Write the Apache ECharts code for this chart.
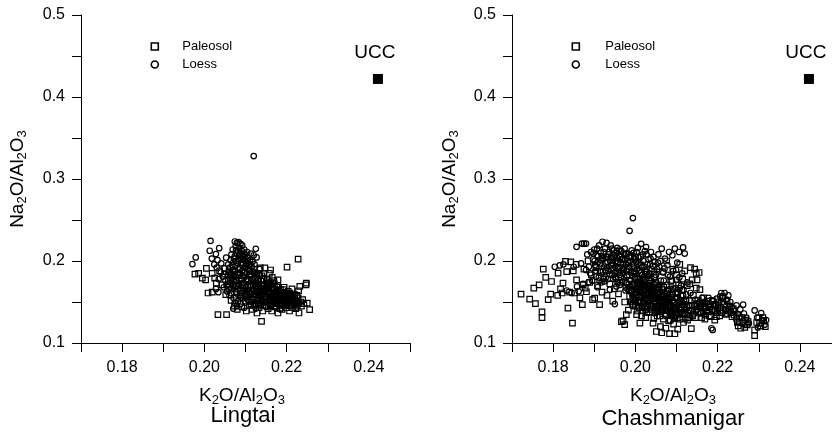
<!DOCTYPE html>
<html><head><meta charset="utf-8">
<script src="https://cdn.jsdelivr.net/npm/echarts@6/dist/echarts.min.js"></script>
<style>html,body{margin:0;padding:0;background:#fff}#c{width:832px;height:440px}</style>
</head><body><div id="c"></div>
<script>
// ---------- data ----------
const panelTitles = ['Lingtai', 'Chashmanigar'];
const seriesNames = ['Paleosol', 'Loess'];
const xTickLabels = ['0.18', '0.20', '0.22', '0.24'];
const yTickLabels = ['0.1', '0.2', '0.3', '0.4', '0.5'];
const uccPoint = [0.2422, 0.422];

const lingtaiPaleosol = [
[.1977,.184],[.1986,.185],[.1995,.179],[.2003,.177],[.2005,.191],[.2009,.161],[.2019,.162],[.2019,.185],[.2025,.179],[.2029,.173],
[.2033,.1345],[.2054,.1345],[.2037,.188],[.2043,.171],[.2049,.184],[.2052,.159],[.2058,.168],[.2060,.187],[.2065,.152],[.2068,.178],
[.2073,.145],[.2075,.169],[.2080,.141],[.2081,.183],[.2087,.163],[.2089,.175],[.2091,.144],[.2094,.167],[.2096,.182],[.2100,.151],
[.2102,.139],[.2104,.163],[.2107,.177],[.2109,.146],[.2111,.187],[.2113,.160],[.2116,.141],[.2118,.172],[.2120,.153],[.2123,.180],
[.2125,.146],[.2126,.165],[.2128,.1366],[.2130,.158],[.2132,.175],[.2133,.143],[.2139,.1263],[.2137,.163],[.2139,.151],[.2140,.182],
[.2142,.139],[.2143,.170],[.2145,.156],[.2147,.146],[.2147,.1917],[.2150,.166],[.2152,.150],[.2153,.177],[.2155,.142],[.2156,.160],
[.2158,.185],[.2159,.171],[.2161,.147],[.2161,.189],[.2163,.157],[.2164,.139],[.2166,.167],[.2168,.152],[.2169,.176],[.2171,.144],
[.2173,.162],[.2174,.156],[.2176,.149],[.2178,.170],[.2179,.1366],[.2179,.177],[.2181,.158],[.2184,.146],[.2185,.165],[.2187,.152],
[.2189,.141],[.2190,.160],[.2192,.155],[.2194,.168],[.2195,.147],[.2197,.157],[.2199,.143],[.2201,.1926],[.2202,.152],[.2204,.163],
[.2206,.146],[.2207,.139],[.2209,.156],[.2211,.149],[.2213,.166],[.2214,.143],[.2216,.154],[.2218,.147],[.2220,.159],[.2222,.142],
[.2224,.151],[.2226,.145],[.2228,.2023],[.2228,.155],[.2229,.1637],[.2230,.1366],[.2232,.169],[.2234,.150],[.2236,.145],[.2239,.153],
[.2242,.148],[.2247,.171],[.2248,.173],[.2250,.1487],[.2256,.1406],
[.2106,.168],[.2112,.161],[.2119,.156],[.2124,.170],[.2131,.149],[.2135,.166],[.2141,.160],[.2146,.171],[.2151,.155],[.2157,.164],
[.2162,.168],[.2167,.160],[.2172,.151],[.2177,.164],[.2183,.155],[.2188,.149],[.2193,.158],[.2198,.150],[.2208,.161],[.2215,.157],
[.2100,.158],[.2093,.171],[.2085,.179],[.2078,.170],[.2070,.183],[.2099,.186],[.2122,.190],[.2133,.185],[.2144,.178],[.2154,.173],
[.2165,.180],[.2136,.1915],[.2170,.172],
[.2061,.172],[.2067,.161],[.2072,.176],[.2077,.155],[.2083,.166],[.2088,.157],[.2092,.161],[.2097,.170],[.2103,.156],[.2108,.164],
[.2110,.150],[.2114,.175],[.2117,.163],[.2121,.147],[.2124,.159],[.2127,.152],[.2129,.168],[.2132,.162],[.2134,.155],[.2136,.147],
[.2138,.170],[.2140,.164],[.2143,.150],[.2145,.166],[.2148,.160],[.2150,.151],[.2153,.168],[.2155,.162],[.2158,.154],[.2160,.145],
[.2162,.161],[.2164,.152],[.2167,.148],[.2169,.165],[.2171,.157],[.2174,.145],[.2176,.168],[.2178,.160],[.2181,.153],[.2183,.142],
[.2186,.162],[.2188,.156],[.2191,.146],[.2193,.165],[.2196,.152],[.2199,.160],[.2201,.147],[.2203,.155],[.2206,.151],[.2210,.158],
[.2212,.145],[.2217,.150],[.2219,.155],[.2223,.147],[.2225,.158]
];

const lingtaiLoess = [
[.2120,.328],[.1971,.1963],[.1979,.2043],[.2015,.2246],[.2013,.2125],[.2018,.203],[.2028,.2085],[.2036,.2157],[.2032,.201],[.2024,.196],
[.2030,.192],[.2041,.197],[.2074,.2238],[.2079,.222],[.2083,.223],[.2088,.221],[.2076,.218],[.2085,.216],[.2092,.219],[.2069,.214],
[.2081,.212],[.2097,.214],[.2104,.211],[.2125,.2149],[.2127,.2043],[.2120,.207],[.2113,.209],[.2066,.208],[.2074,.206],[.2079,.209],
[.2087,.207],[.2093,.205],[.2099,.208],[.2106,.204],[.2111,.201],[.2117,.199],[.2064,.201],[.2071,.199],[.2083,.202],[.2089,.198],
[.2096,.201],[.2102,.197],[.2108,.195],[.2115,.193],[.2122,.196],[.2058,.196],[.2053,.204],[.2048,.191],[.2062,.192],[.2069,.189],
[.2076,.194],[.2081,.186],[.2086,.191],[.2092,.188],[.2098,.192],[.2103,.185],[.2109,.189],[.2114,.183],[.2119,.187],[.2128,.184],
[.2134,.190],[.2040,.186],[.2045,.181],[.2035,.178],[.2051,.176],[.2057,.183],[.2063,.179],[.2067,.173],[.2073,.181],[.2078,.176],
[.2084,.171],[.2090,.178],[.2095,.173],[.2101,.168],[.2106,.175],[.2112,.170],[.2118,.166],[.2124,.173],[.2131,.168],[.2138,.176],
[.2144,.163],[.2028,.166],[.2034,.162],[.2047,.168],[.2055,.163],[.2061,.158],[.2066,.166],[.2071,.155],[.2074,.149],[.2077,.162],
[.2082,.151],[.2086,.158],[.2093,.155],[.2099,.160],[.2105,.153],[.2110,.157],[.2116,.150],[.2121,.159],[.2129,.154],[.2135,.158],
[.2141,.152],[.2148,.157],[.2154,.161],[.2160,.150],[.2166,.155],[.2172,.159],[.2179,.153],[.2186,.158],[.2192,.162],[.2198,.155],
[.2205,.160],[.2211,.153],[.2070,.142],[.2079,.145],[.2088,.148],[.2097,.143],[.2113,.146],[.2125,.142],[.2138,.147],[.2150,.144],
[.2163,.146],[.2176,.149],[.2190,.151],[.2203,.149],[.2216,.151],[.2230,.148],
[.2063,.186],[.2068,.195],[.2072,.203],[.2077,.213],[.2080,.198],[.2084,.206],[.2087,.184],[.2091,.212],[.2094,.196],[.2097,.186],
[.2100,.203],[.2103,.178],[.2107,.191],[.2110,.183],[.2112,.196],[.2116,.178],[.2119,.170],[.2123,.185],[.2126,.163],[.2130,.177],
[.2133,.172],[.2136,.182],[.2139,.163],[.2142,.170],[.2145,.185],[.2147,.165],[.2151,.175],[.2156,.168],[.2161,.175],[.2082,.190],
[.2089,.202],[.2095,.209],[.2101,.194],[.2105,.200],[.2070,.171],[.2075,.187],[.2058,.176],[.2054,.170],[.2060,.165],[.2065,.184]
];

const chashPaleosol = [
[.1722,.1597],[.1743,.1536],[.1753,.167],[.1757,.148],[.1766,.171],[.1773,.138],[.1773,.131],[.1776,.190],[.1782,.180],[.1788,.1528],
[.1794,.1597],[.1796,.175],[.1811,.158],[.1812,.1853],[.1818,.166],[.1822,.161],[.1824,.173],[.1830,.1995],[.1833,.187],[.1836,.1426],
[.1840,.162],[.1843,.199],[.1847,.1243],[.1849,.188],[.1852,.161],[.1857,.177],[.1856,.196],[.1865,.155],[.1873,.171],[.1871,.1467],
[.1875,.190],[.1878,.167],[.1881,.1625],[.1885,.200],[.1889,.174],[.1893,.183],[.1896,.153],[.1901,.1548],[.1904,.192],[.1908,.170],
[.1913,.1467],[.1916,.186],[.1919,.162],[.1923,.178],[.1927,.197],[.1931,.158],[.1934,.205],[.1938,.172],[.1942,.189],[.1945,.151],
[.1949,.166],[.1952,.181],[.1956,.199],[.1959,.160],[.1962,.174],[.1966,.126],[.1970,.127],[.1974,.1223],[.1978,.1345],[.1971,.192],
[.1974,.150],[.1977,.168],[.1980,.183],[.1983,.140],[.1986,.157],[.1989,.205],[.1992,.171],[.1995,.146],[.1998,.188],[.2003,.1345],
[.2003,.162],[.2006,.178],[.2009,.152],[.2011,.1243],[.2014,.195],[.2017,.143],[.2019,.169],[.2022,.157],[.2025,.131],[.2027,.184],
[.2030,.148],[.2033,.173],[.2035,.138],[.2038,.163],[.2043,.1243],[.2043,.154],[.2046,.180],[.2049,.144],[.2051,.114],[.2053,.133],
[.2056,.168],[.2058,.150],[.2061,.120],[.2063,.140],[.2064,.1125],[.2066,.187],[.2068,.129],[.2071,.157],[.2074,.118],[.2076,.200],
[.2079,.146],[.2081,.127],[.2083,.1115],[.2086,.175],[.2088,.136],[.2091,.190],[.2093,.123],[.2096,.1113],[.2098,.160],[.2100,.183],
[.2102,.131],[.2103,.117],[.2105,.171],[.2108,.196],[.2110,.140],[.2113,.164],[.2115,.178],[.2117,.125],[.2120,.188],[.2123,.151],
[.2126,.170],[.2128,.136],[.2132,.172],[.2134,.192],[.2133,.146],[.2136,.1175],[.2138,.177],[.2141,.158],[.2144,.190],[.2147,.140],
[.2148,.185],[.2148,.167],[.2150,.177],[.2152,.152],[.2155,.186],[.2157,.165],[.2160,.136],[.2163,.148],[.2166,.155],[.2169,.129],
[.2172,.143],[.2175,.151],[.2178,.138],[.2181,.147],[.2184,.132],[.2187,.152],[.2190,.141],[.2193,.128],[.2196,.146],[.2199,.137],
[.2202,.150],[.2205,.133],[.2208,.143],[.2211,.155],[.2214,.139],[.2217,.147],[.2220,.135],[.2223,.151],[.2226,.141],[.2229,.145],
[.2232,.137],[.2235,.132],[.2238,.142],[.2246,.130],[.2250,.121],[.2253,.126],[.2256,.118],[.2259,.131],[.2263,.124],[.2268,.128],
[.2272,.122],[.2290,.109],[.2290,.116],[.2295,.125],[.2305,.121],[.2312,.127],[.2316,.120],[.2300,.131],
[.1990,.150],[.2000,.145],[.2010,.157],[.2020,.148],[.2030,.160],[.2040,.141],[.2050,.150],[.2060,.133],[.2070,.144],[.2080,.155],
[.2090,.138],[.2005,.139],[.2015,.133],[.2025,.141],[.2045,.130],[.2065,.148],[.2085,.128],[.2100,.146],[.2110,.152],[.2120,.140],
[.2130,.131],
[.1991,.163],[.1994,.155],[.1997,.172],[.1999,.150],[.2002,.158],[.2004,.170],[.2007,.145],[.2008,.165],[.2012,.150],[.2013,.162],
[.2016,.171],[.2018,.139],[.2021,.165],[.2023,.152],[.2026,.160],[.2028,.137],[.2031,.155],[.2032,.167],[.2036,.146],[.2039,.158],
[.2041,.168],[.2044,.148],[.2047,.160],[.2048,.139],[.2052,.155],[.2054,.144],[.2057,.160],[.2059,.138],[.2062,.152],[.2064,.165],
[.2067,.140],[.2069,.157],[.2072,.148],[.2075,.135],[.2077,.160],[.2080,.142],[.2082,.150],[.2084,.137],[.2087,.145],[.2089,.160],
[.2092,.133],[.2095,.150],[.2097,.140],[.2101,.155],[.2104,.137],[.2107,.149],[.2109,.129],[.2112,.144],[.2114,.135],[.2118,.150],
[.2121,.130],[.2125,.143],[.2127,.128],[.2131,.152],[.2135,.139],[.2139,.133],[.2143,.145],[.2146,.131],[.2149,.148],[.2153,.138],
[.2156,.144],[.2159,.150],[.2161,.131],[.2165,.139],[.2168,.145],[.2171,.134],[.2177,.147],[.2180,.133],[.2186,.140],[.2192,.147],
[.2197,.132],[.2200,.142],[.2209,.137],[.2213,.150],[.2219,.141],[.2224,.136],[.2228,.139],[.2240,.134],[.2248,.125],[.2252,.132],
[.2266,.119],[.2274,.126],[.2302,.124],[.2310,.131],
[.1985,.165],[.1993,.147],[.1997,.160],[.2001,.152],[.2006,.167],[.2009,.143],[.2014,.157],[.2018,.164],[.2022,.144],[.2027,.169],
[.2029,.153],[.2034,.160],[.2037,.143],[.2042,.165],[.2045,.152],[.2049,.171],[.2053,.160],[.2055,.141],[.2058,.166],[.2062,.145],
[.2066,.157],[.2069,.168],[.2073,.140],[.2076,.152],[.2079,.163],[.2083,.145],[.2088,.156],[.2091,.166],[.2094,.143],[.2098,.134],
[.2102,.162],[.2106,.142],[.2111,.158],[.2115,.147],[.2119,.135]
];

const chashLoess = [
[.1804,.193],[.1816,.1946],[.1825,.196],[.1833,.164],[.1845,.161],[.1850,.193],[.1857,.2173],[.1858,.169],[.1862,.163],[.1868,.197],
[.1870,.2213],[.1873,.172],[.1875,.2213],[.1880,.2213],[.1880,.189],[.1883,.208],[.1886,.174],[.1887,.193],[.1890,.185],[.1892,.211],
[.1895,.176],[.1897,.202],[.1900,.214],[.1902,.195],[.1904,.181],[.1906,.207],[.1908,.168],[.1910,.199],[.1912,.219],[.1914,.188],
[.1916,.210],[.1918,.174],[.1920,.2235],[.1922,.203],[.1924,.193],[.1926,.215],[.1928,.180],[.1930,.222],[.1932,.199],[.1934,.188],
[.1936,.211],[.1938,.165],[.1940,.219],[.1942,.195],[.1944,.205],[.1946,.178],[.1948,.213],[.1950,.1475],[.1950,.186],[.1952,.200],
[.1954,.169],[.1956,.216],[.1958,.192],[.1960,.207],[.1962,.183],[.1964,.197],[.1966,.212],[.1968,.175],[.1970,.203],[.1972,.189],
[.1974,.215],[.1976,.164],[.1978,.196],[.1980,.181],[.1982,.209],[.1984,.172],[.1986,.2368],[.1987,.200],[.1989,.186],[.1991,.213],
[.1993,.158],[.1994,.2523],[.1996,.193],[.1998,.178],[.2000,.205],[.2002,.166],[.2004,.190],[.2006,.216],[.2008,.149],[.2010,.198],
[.2012,.174],[.2014,.221],[.2016,.183],[.2018,.208],[.2020,.160],[.2022,.193],[.2024,.170],[.2026,.217],[.2028,.187],[.2030,.151],
[.2032,.202],[.2034,.177],[.2036,.164],[.2038,.211],[.2040,.190],[.2042,.145],[.2044,.172],[.2046,.199],[.2048,.158],[.2050,.183],
[.2052,.138],[.2054,.167],[.2056,.208],[.2058,.193],[.2060,.152],[.2062,.176],[.2064,.215],[.2066,.142],[.2068,.186],[.2070,.162],
[.2072,.203],[.2074,.133],[.2076,.171],[.2078,.195],[.2080,.150],[.2082,.211],[.2084,.181],[.2086,.141],[.2088,.165],[.2090,.207],
[.2092,.188],[.2094,.131],[.2096,.215],[.2098,.155],[.2100,.177],[.2102,.198],[.2104,.146],[.2106,.211],[.2108,.167],[.2110,.137],
[.2116,.2165],[.2114,.185],[.2116,.158],[.2118,.144],[.2120,.209],[.2123,.152],[.2124,.159],[.2126,.174],[.2130,.140],[.2134,.161],
[.2138,.146],[.2142,.135],[.2146,.153],[.2150,.141],[.2154,.149],[.2158,.137],[.2162,.155],[.2166,.143],[.2170,.150],[.2174,.138],
[.2178,.155],[.2182,.144],[.2185,.118],[.2188,.116],[.2190,.151],[.2194,.139],[.2198,.154],[.2202,.146],[.2206,.157],[.2209,.161],
[.2213,.157],[.2217,.161],[.2222,.153],[.2226,.158],[.2231,.150],[.2234,.144],[.2240,.139],[.2246,.146],[.2250,.135],[.2255,.141],
[.2262,.1467],[.2264,.136],[.2270,.131],[.2276,.124],[.2290,.1397],[.2296,.131],[.2306,.1365],[.2308,.128],[.2314,.1223],[.2318,.128],
[.2298,.119],
[.1935,.208],[.1945,.197],[.1955,.204],[.1965,.188],[.1975,.201],[.1985,.193],[.1995,.185],[.2005,.196],[.2015,.178],[.2025,.188],
[.2035,.170],[.2045,.163],[.2055,.155],[.2065,.160],[.2075,.148],[.2085,.154],[.2095,.142],[.2017,.155],[.2027,.145],[.2037,.155],
[.2047,.137],[.2057,.145],[.2067,.151],[.2077,.140],[.2087,.133],
[.1898,.209],[.1903,.188],[.1907,.215],[.1911,.180],[.1915,.197],[.1919,.206],[.1921,.187],[.1925,.175],[.1929,.205],[.1931,.192],
[.1937,.184],[.1939,.200],[.1943,.215],[.1947,.191],[.1949,.207],[.1953,.178],[.1957,.197],[.1959,.185],[.1961,.214],[.1963,.171],
[.1967,.202],[.1969,.191],[.1973,.180],[.1977,.209],[.1979,.188],[.1981,.166],[.1983,.198],[.1988,.176],[.1990,.206],[.1992,.182],
[.1997,.203],[.1999,.169],[.2001,.185],[.2003,.211],[.2007,.175],[.2009,.188],[.2011,.163],[.2013,.205],[.2017,.192],[.2019,.172],
[.2021,.180],[.2023,.212],[.2029,.196],[.2031,.166],[.2033,.185],[.2037,.203],[.2039,.176],[.2041,.158],[.2043,.194],[.2047,.180],
[.2049,.166],[.2053,.190],[.2059,.171],[.2061,.200],[.2063,.158],[.2069,.176],[.2071,.191],[.2073,.154],[.2079,.183],[.2081,.165],
[.2089,.176],[.2091,.152],[.2097,.167],[.2099,.189],[.2103,.160],[.2107,.180],[.2111,.170],[.2113,.150],[.2117,.165],
[.1901,.200],[.1905,.193],[.1909,.206],[.1913,.176],[.1917,.201],[.1923,.211],[.1927,.189],[.1933,.178],[.1941,.204],[.1944,.183],
[.1951,.193],[.1955,.212],[.1957,.174],[.1963,.205],[.1965,.180],[.1971,.196],[.1973,.208],[.1978,.173],[.1981,.190],[.1985,.205],
[.1988,.168],[.1993,.197],[.1996,.210],[.1999,.180],[.2002,.199],[.2005,.172],[.2007,.205],[.2012,.186],[.2014,.168],[.2019,.200],
[.2022,.176],[.2027,.208],[.2031,.182],[.2036,.196],[.2039,.168],[.2044,.205],[.2046,.187],[.2051,.174],[.2055,.198],[.2057,.162]
];

// ---------- chart ----------
const FONT = '"Liberation Sans", Arial, Helvetica, sans-serif';
const nameRich = {
  m: {fontSize: 19, fontFamily: FONT, color: '#000', verticalAlign: 'top'},
  s: {fontSize: 13, fontFamily: FONT, color: '#000', verticalAlign: 'top', padding: [8, 0, 0, 0]}
};
const xName = '{m|K}{s|2}{m|O/Al}{s|2}{m|O}{s|3}';
const yName = '{m|Na}{s|2}{m|O/Al}{s|2}{m|O}{s|3}';

const gridLefts = [81, 512];
const legendLefts = [145.5, 566.5];
const legendPads = [19, 21];
const titleX = [243, 673];
const titleY = [416, 419];

function xFmt(v) { const s = v.toFixed(2); return xTickLabels.indexOf(s) >= 0 ? s : ''; }
function yFmt(v) {
  if (Math.abs(v * 10 - Math.round(v * 10)) > 1e-6) return '';
  const s = v.toFixed(1); return yTickLabels.indexOf(s) >= 0 ? s : '';
}

const panelData = [[lingtaiPaleosol, lingtaiLoess], [chashPaleosol, chashLoess]];

const option = {
  animation: false,
  backgroundColor: '#fff',
  grid: gridLefts.map(l => ({left: l, top: 15, width: 329, height: 328, outerBoundsMode: 'none', containLabel: false})),
  xAxis: [0, 1].map(i => ({
    type: 'value', gridIndex: i, min: 0.17, max: 0.25, interval: 0.01,
    axisLine: {show: true, onZero: false, lineStyle: {color: '#000', width: 1}},
    axisTick: {show: true, length: 9, lineStyle: {color: '#000', width: 1}},
    splitLine: {show: false},
    axisLabel: {show: true, margin: 17, fontSize: 16, color: '#000', fontFamily: FONT, formatter: xFmt, showMinLabel: true, showMaxLabel: true},
    name: xName, nameLocation: 'middle', nameGap: 43,
    nameTextStyle: {rich: nameRich, padding: [0, 7, 0, 0]}
  })),
  yAxis: [0, 1].map(i => ({
    type: 'value', gridIndex: i, min: 0.1, max: 0.5, interval: 0.05,
    axisLine: {show: true, onZero: false, lineStyle: {color: '#000', width: 1}},
    axisTick: {show: true, length: 9, lineStyle: {color: '#000', width: 1}},
    splitLine: {show: false},
    axisLabel: {show: true, margin: 16, fontSize: 16, color: '#000', fontFamily: FONT, formatter: yFmt, showMinLabel: true, showMaxLabel: true},
    name: yName, nameLocation: 'middle', nameRotate: 90, nameGap: i === 0 ? 52 : 51,
    nameTextStyle: {rich: nameRich}
  })),
  legend: [0, 1].map(i => ({
    data: seriesNames, orient: 'vertical', left: legendLefts[i], top: 35,
    itemWidth: 7, itemHeight: 7, itemGap: 5, selectedMode: false,
    itemStyle: {borderWidth: 1.6, borderColor: '#000', color: 'rgba(0,0,0,0)', opacity: 1},
    textStyle: {fontSize: 13, color: '#000', fontFamily: FONT, padding: [0, 0, 0, legendPads[i]]}
  })),
  graphic: [0, 1].map(i => ({
    type: 'text', x: titleX[i], y: titleY[i], silent: true,
    style: {text: panelTitles[i], fontSize: 22, fontFamily: FONT, fill: '#000',
            align: 'center', verticalAlign: 'middle', textAlign: 'center', textVerticalAlign: 'middle'}
  })),
  series: []
};

[0, 1].forEach(i => {
  option.series.push({
    name: seriesNames[0], type: 'scatter', xAxisIndex: i, yAxisIndex: i,
    symbol: 'rect', symbolSize: 5.5, data: panelData[i][0],
    itemStyle: {color: 'rgba(0,0,0,0)', borderColor: '#000', borderWidth: 1.2, opacity: 1}
  });
  option.series.push({
    name: seriesNames[1], type: 'scatter', xAxisIndex: i, yAxisIndex: i,
    symbol: 'circle', symbolSize: 5.5, data: panelData[i][1],
    itemStyle: {color: 'rgba(0,0,0,0)', borderColor: '#000', borderWidth: 1.2, opacity: 1}
  });
  option.series.push({
    name: 'UCC', type: 'scatter', xAxisIndex: i, yAxisIndex: i,
    symbol: 'rect', symbolSize: 10, data: [uccPoint],
    itemStyle: {color: '#000', opacity: 1},
    label: {show: true, formatter: 'UCC', position: 'top', distance: 12, offset: [-3, 0],
            fontSize: 19, color: '#000', opacity: 1, fontFamily: FONT}
  });
});

const chart = echarts.init(document.getElementById('c'), null, {renderer: 'canvas'});
chart.setOption(option);
</script>
</body></html>
